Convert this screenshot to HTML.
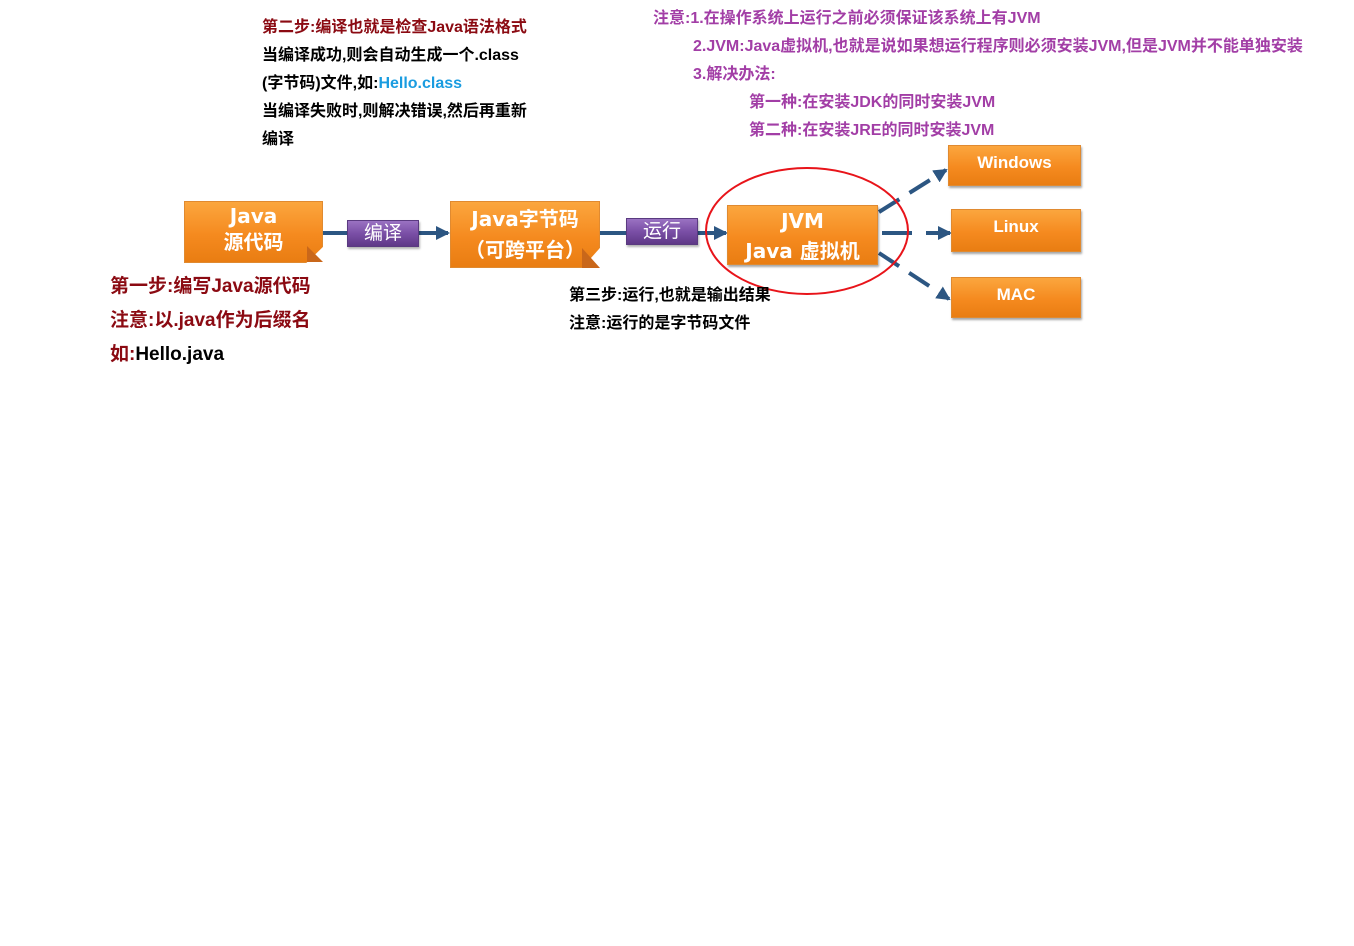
<!DOCTYPE html>
<html><head><meta charset="utf-8">
<style>
body{margin:0;width:1354px;height:946px;background:#fff;position:relative;overflow:hidden;font-family:"Liberation Sans","Noto Sans CJK SC",sans-serif;}
.t{position:absolute;font-weight:bold;white-space:nowrap;}
.box{position:absolute;background:linear-gradient(#fba63e,#f58a1f 55%,#e97d12);color:#fff;font-weight:bold;text-align:center;box-shadow:1px 2px 2px rgba(0,0,0,.35);border:1px solid #e08a30;box-sizing:border-box;}
.pur{position:absolute;background:linear-gradient(#9a72c2,#7a4fa6 50%,#5f3887);color:#fff;text-align:center;font-size:19px;line-height:26px;box-sizing:border-box;border:1px solid #5a3a80;box-shadow:1px 2px 2px rgba(0,0,0,.3);}
.fold{position:absolute;width:0;height:0;}
</style></head><body>
<svg width="1354" height="946" style="position:absolute;left:0;top:0">
<defs>
<marker id="b" markerWidth="14" markerHeight="14" refX="12" refY="7" orient="auto" markerUnits="userSpaceOnUse"><path d="M0,0 L14,7 L0,14 z" fill="#2c5682"/></marker></defs>
<line x1="323" y1="233" x2="347" y2="233" stroke="#2c5682" stroke-width="4"/>
<line x1="419" y1="233" x2="448" y2="233" stroke="#2c5682" stroke-width="4" marker-end="url(#b)"/>
<line x1="600" y1="233" x2="626" y2="233" stroke="#2c5682" stroke-width="4"/>
<line x1="698" y1="233" x2="726" y2="233" stroke="#2c5682" stroke-width="4" marker-end="url(#b)"/>
<line x1="879" y1="212" x2="946" y2="170" stroke="#2c5682" stroke-width="4" stroke-dasharray="24,12" marker-end="url(#b)"/>
<line x1="882" y1="233" x2="950" y2="233" stroke="#2c5682" stroke-width="4" stroke-dasharray="30,14" marker-end="url(#b)"/>
<line x1="879" y1="253" x2="949" y2="299" stroke="#2c5682" stroke-width="4" stroke-dasharray="24,12" marker-end="url(#b)"/>
</svg>
<div class="box" style="left:184px;top:201px;width:139px;height:62px;font-size:20px;line-height:26px;padding-top:1px;clip-path:polygon(0 0,100% 0,100% 74%,88% 100%,0 100%)"><span style="font-family:'DejaVu Sans',sans-serif">Java</span><br>源代码</div>
<div class="fold" style="left:307px;top:246px;border-left:16px solid #c9671a;border-top:16px solid transparent;"></div>
<div class="pur" style="left:347px;top:220px;width:72px;height:27px;">编译</div>
<div class="box" style="left:450px;top:201px;width:150px;height:67px;font-size:20px;line-height:31px;padding-top:2px;clip-path:polygon(0 0,100% 0,100% 70%,88% 100%,0 100%)"><span style="font-family:'DejaVu Sans',sans-serif">Java</span>字节码<br>（可跨平台）</div>
<div class="fold" style="left:582px;top:248px;border-left:18px solid #c9671a;border-top:20px solid transparent;"></div>
<div class="pur" style="left:626px;top:218px;width:72px;height:27px;">运行</div>
<div class="box" style="left:727px;top:205px;width:151px;height:60px;font-size:20px;line-height:30px;font-family:'DejaVu Sans','Noto Sans CJK SC',sans-serif;">JVM<br>Java 虚拟机</div>
<div class="box" style="left:948px;top:145px;width:133px;height:41px;font-size:17px;line-height:34px;">Windows</div>
<div class="box" style="left:951px;top:209px;width:130px;height:43px;font-size:17px;line-height:34px;">Linux</div>
<div class="box" style="left:951px;top:277px;width:130px;height:41px;font-size:17px;line-height:34px;">MAC</div>
<svg width="1354" height="946" style="position:absolute;left:0;top:0">
<ellipse cx="807" cy="231" rx="101" ry="63" fill="none" stroke="#e8141a" stroke-width="2"/>
</svg>
<div class="t" style="left:262px;top:14px;font-size:16px;line-height:28px;color:#000">
<span style="color:#8b0a12">第二步:编译也就是检查Java语法格式</span><br>当编译成功,则会自动生成一个.class<br>(字节码)文件,如:<span style="color:#1a9ce0">Hello.class</span><br>当编译失败时,则解决错误,然后再重新<br>编译</div>
<div class="t" style="left:653px;top:5px;font-size:16px;line-height:28px;color:#a23ea6">注意:1.在操作系统上运行之前必须保证该系统上有JVM<br>
<span style="padding-left:40px">2.JVM:Java虚拟机,也就是说如果想运行程序则必须安装JVM,但是JVM并不能单独安装</span><br>
<span style="padding-left:40px">3.解决办法:</span><br>
<span style="padding-left:96px">第一种:在安装JDK的同时安装JVM</span><br>
<span style="padding-left:96px">第二种:在安装JRE的同时安装JVM</span></div>
<div class="t" style="left:110px;top:270px;font-size:19px;line-height:34px;color:#8b0a12">第一步:编写Java源代码<br>注意:以.java作为后缀名<br>如:<span style="color:#000">Hello.java</span></div>
<div class="t" style="left:569px;top:282px;font-size:16px;line-height:28px;color:#000">第三步:运行,也就是输出结果<br>注意:运行的是字节码文件</div>
</body></html>
